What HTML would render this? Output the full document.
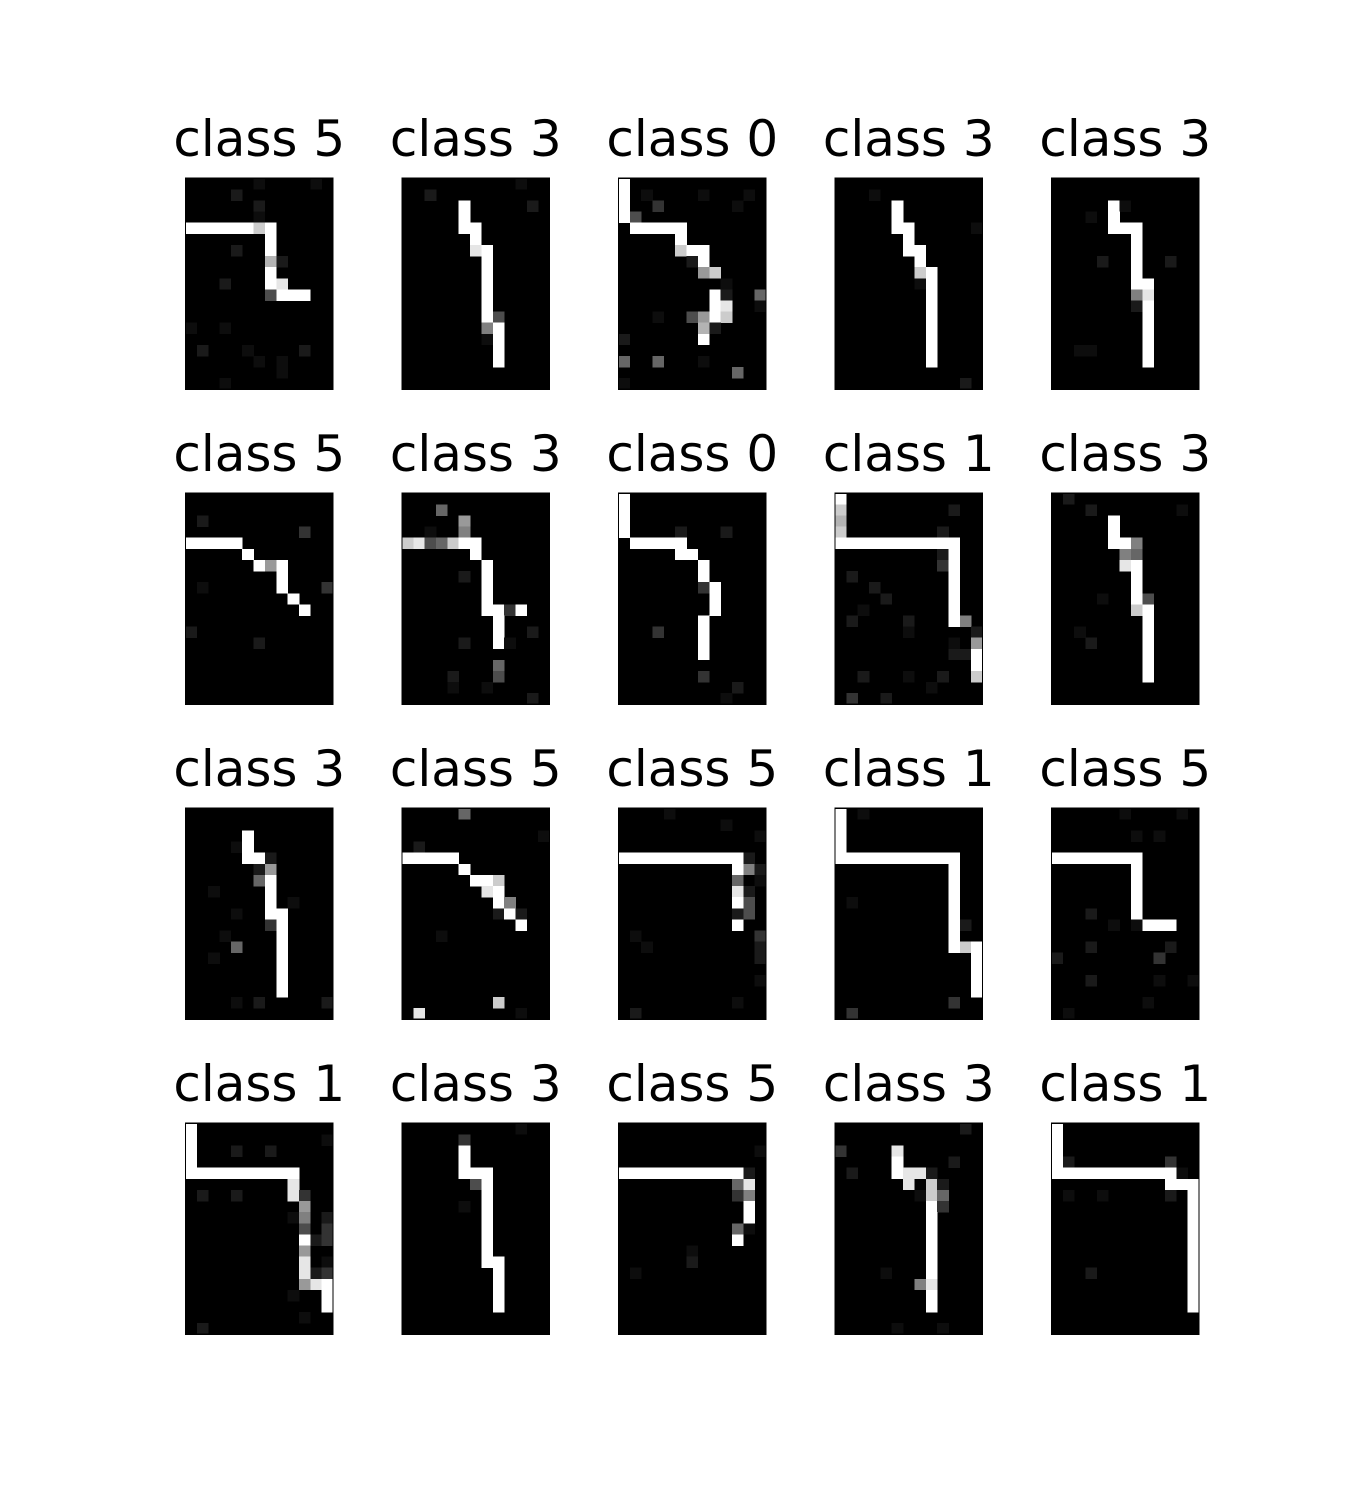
<!DOCTYPE html>
<html><head><meta charset="utf-8"><style>
html,body{margin:0;padding:0;background:#fff;}
svg{display:block;}
text{font-family:"DejaVu Sans","Liberation Sans",sans-serif;}
</style></head><body>
<svg id="fig" width="1350" height="1500" viewBox="0 0 1350 1500" xmlns="http://www.w3.org/2000/svg" shape-rendering="crispEdges">
<rect x="0" y="0" width="1350" height="1500" fill="#fff"/>
</svg>
<script>
const classes = [5,3,0,3,3, 5,3,0,1,3, 3,5,5,1,5, 1,3,5,3,1];
// pixel intensity grids: '.'=0, 'a'=0.05, '1'..'9'=0.1..0.9, '#'=1
const grids = [
["......a....a.","....1........","......1......","......a......","######8#.....",".......#.....","....1..#.....",".......71....",".......#.....","...1...#9....",".......3###..",".............",".............","a..a.........",".............",".1...a....1..","......a.a....","........a....","...a........."],
["..........a..","..1..........",".....#.....1.",".....#.......",".....##......","......#......","......9#.....",".......#.....",".......#.....",".......#.....",".......#.....",".......#.....",".......#3....",".......5#....",".......a#....","........#....","........#....",".............","............."],
["#............","#.a....a...a.","#..2......a..","#3...........",".#####.......",".....#.......",".....8##.....","......1#.....",".......68....",".........a...","........#1..4","........#9..a","...a..36#8...",".......71....","1......#.....",".............","4..4...a.....","..........4..","a............"],
[".............","...a.........",".....#.......",".....#.......",".....##.....a","......#......","......##.....",".......#.....",".......8#....",".......a#....","........#....","........#....","........#....","........#....","........#....","........#....","........#....",".............","...........1."],
[".............",".............",".....#a......","...a.#.......",".....###.....",".......#.....",".......#.....","....1..#..1..",".......#.....",".......##....",".......59....",".......1#....","........#....","........#....","........#....","..aa....#....","........#....",".............","............."],
[".............",".............",".1...........","..........2..","#####........",".....#.......","......#6#....","........#....",".a......#...2",".........#...","..........#..",".............","1............","......1......",".............",".............",".............",".............","............."],
[".............","...4.........",".....6.......","..a..5.......","89348##......","......#......",".......#.....",".....1.#.....",".......#.....",".......#.....",".......##2#..","........#....","........#..1.",".....1..#a...",".............","........4....","....1...3....","....a..a.....","...........1."],
["#............","#............","#............","#....1...1...",".#####.......",".....##......",".......#.....",".......#.....",".......2#....","........#....","........#....",".......#.....","...2...#.....",".......#.....",".......#.....",".............",".......2.....","..........1..",".........a..."],
["#............","8.........1..","7............","8........1...","###########..",".........1#..",".........2#..",".1........#..","...1......#..","....1.....#..","..a.......#..",".1....1...#5.","......a.....1","..........a.6","..........11#","............#","..1...a..1..8","........a....",".2..1........"],
[".1...........","...1.......a.",".....#.......",".....#.......",".....##5.....","......54.....","......9#.....",".......#.....",".......#.....","....a..#3....",".......8#....","........#....","..a.....#....","...1....#....","........#....","........#....","........#....",".............","............."],
[".............",".............",".....#.......","....a#.......",".....##1.....","......16.....","......4#.....","..a....#.....",".......#.a...","....a..##....",".......2#....","...a....#....","....4...#....","..a.....#....","........#....","........#....","........#....","....a.1.....1","............."],
[".....4.......",".............","............a",".1...........","#####........",".....#.......","......##8....",".......9#....","........#5...","........1#1..","..........#..","...a.........",".............",".............",".............",".............",".............","........8....",".9........a.."],
["....a........",".........a...","............a",".............","###########1.","..........#51","..........4.a","..........91.","..........#3.","..........13.","..........#..",".a..........2","..a.........1","............1",".............","............a",".............","..........a..",".1..........."],
["#.a..........","#............","#............","#............","###########..","..........#..","..........#..","..........#..",".a........#..","..........#..","..........#1.","..........#..","..........#8#","............#","............#","............#","............#","..........2..",".2..........."],
["......a....a.",".............",".......a.a...",".............","########.....",".......#.....",".......#.....",".......#.....",".......#.....","...1...#.....",".....a.a###..",".............","...1......1..","1........2...",".............","...1.....a..a",".............","........a....",".a..........."],
["#............","#...........a","#...1..1.....","#............","##########...",".........9...",".1..1....92..","..........6..",".........a5.1","..........3.2","..........#12","..........6..","..........9.a","..........912","..........69#",".........a..#","............#","..........a..",".1..........."],
["..........a..",".....2.......",".....#.......",".....#.......",".....###.....","......3#.....",".......#.....",".....a.#.....",".......#.....",".......#.....",".......#.....",".......#.....",".......##....","........#....","........#....","........#....","........#....",".............","............."],
[".............",".............","............a",".............","###########1.","..........49.","..........25.","...........#.","...........#.","..........4a.","..........#..","......a......","......1......",".a...........",".............",".............",".............",".............","............."],
["...........1.",".............","2....9.......",".....#....1..",".1...#991....","......9.81...",".......a84...","........#2...","........#....","........#....","........#....","........#....","........#....","....a...#....",".......59....","........#....","........#....",".............",".....a...a..."],
["#............","#............","#............","#1........2..","###########a.","..........###",".a..a.....1.#","............#","............#","............#","............#","............#","............#","...1........#","............#","............#","............#",".............","............."]
];
const NS = "http://www.w3.org/2000/svg";
const svg = document.getElementById('fig');
const X0 = 185.5, DX = 216.5, Y0 = 178.3, DY = 315, PW = 147.5, PH = 211;
function val(ch){ if(ch==='#') return 1; if(ch==='a') return 0.05; if(ch==='.') return 0; return (+ch)/10; }
function colX(c, i){ return X0 + c*DX + i*PW/13; }
function rowY(r, j){ return Y0 + r*DY + j*PH/19; }
classes.forEach((cls, k) => {
  const r = Math.floor(k/5), c = k%5;
  const g = document.createElementNS(NS, 'g');
  
  
  const t = document.createElementNS(NS, 'text');
  
  
  t.setAttribute('x', X0 + c*DX + PW/2);
  t.setAttribute('y', Y0 + r*DY - 22.5);
  t.setAttribute('text-anchor', 'middle');
  t.setAttribute('font-size', '50');
  t.setAttribute('fill', '#000');
  t.textContent = 'class ' + cls;
  g.appendChild(t);
  const bg = document.createElementNS(NS, 'rect');
  
  
  bg.setAttribute('x', colX(c,0)); bg.setAttribute('y', rowY(r,0));
  bg.setAttribute('width', PW); bg.setAttribute('height', PH);
  bg.setAttribute('fill', '#000');
  g.appendChild(bg);
  grids[k].forEach((row, j) => {
    for (let i = 0; i < 13; i++) {
      const v = val(row[i] || '.');
      if (v <= 0) continue;
      const p = document.createElementNS(NS, 'rect');
      
      
      const x1 = colX(c,i), x2 = colX(c,i+1), y1 = rowY(r,j), y2 = rowY(r,j+1);
      p.setAttribute('x', x1.toFixed(2)); p.setAttribute('y', y1.toFixed(2));
      p.setAttribute('width', (x2-x1+0.3).toFixed(2)); p.setAttribute('height', (y2-y1+0.3).toFixed(2));
      const gv = Math.round(v*255);
      p.setAttribute('fill', 'rgb(' + gv + ',' + gv + ',' + gv + ')');
      g.appendChild(p);
    }
  });
  const fr = document.createElementNS(NS, 'rect');
  
  
  fr.setAttribute('x', colX(c,0)); fr.setAttribute('y', rowY(r,0));
  fr.setAttribute('width', PW); fr.setAttribute('height', PH);
  fr.setAttribute('fill', 'none');
  fr.setAttribute('stroke', '#000');
  fr.setAttribute('stroke-width', '1.2');
  g.appendChild(fr);
  svg.appendChild(g);
});
</script>
</body></html>
